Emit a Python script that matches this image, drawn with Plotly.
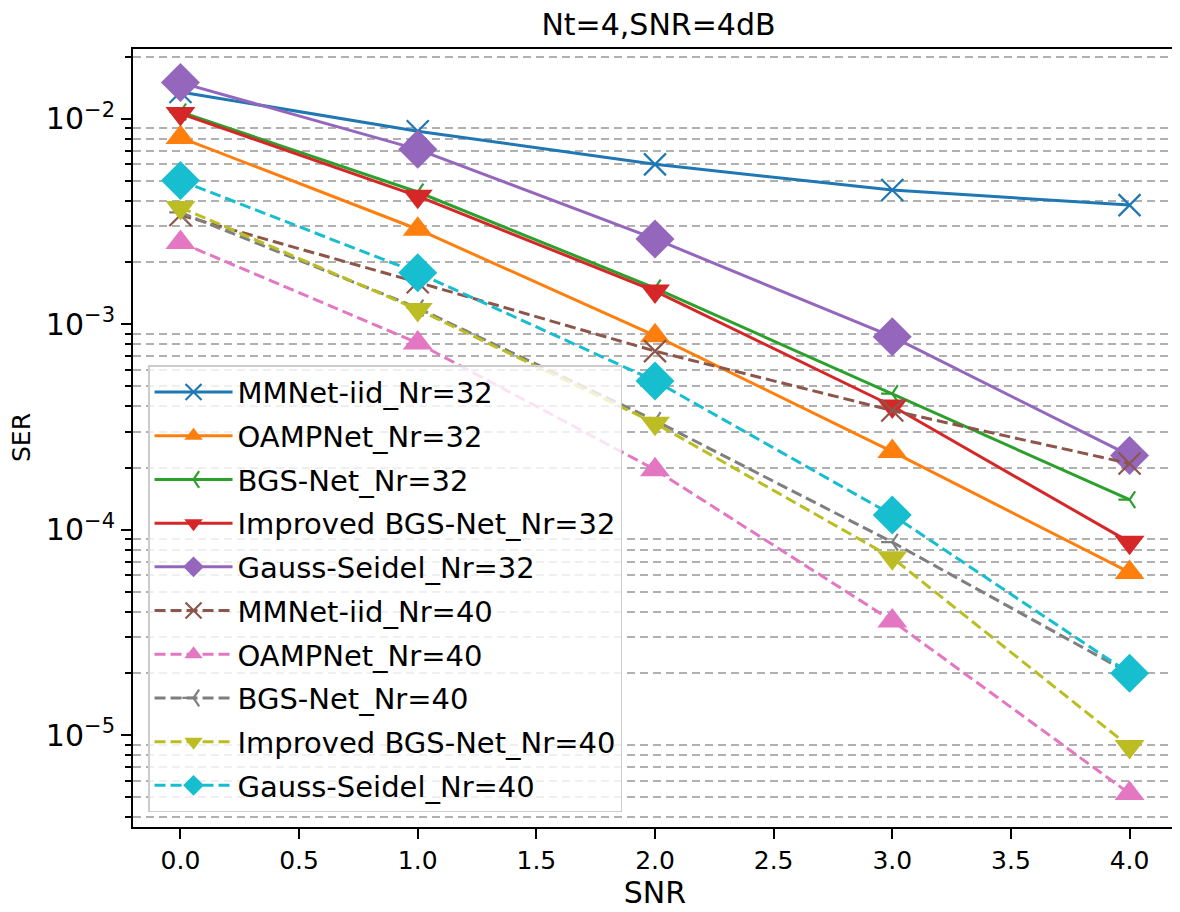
import plotly.graph_objects as go

# SNR points (x axis)
snr = [0, 1, 2, 3, 4]

# SER curves
mmnet_32 = [0.0135, 0.0087, 0.0060, 0.0045, 0.0038]
oamp_32 = [0.0081, 0.0029, 0.00088, 0.00024, 0.000062]
bgs_32 = [0.0108, 0.0044, 0.0015, 0.00046, 0.00014]
ibgs_32 = [0.0106, 0.0042, 0.00145, 0.00040, 0.000087]
gs_32 = [0.0150, 0.0071, 0.0026, 0.00087, 0.00023]
mmnet_40 = [0.0034, 0.0016, 0.00074, 0.00038, 0.00021]
oamp_40 = [0.0025, 0.00081, 0.000196, 0.000036, 0.0000052]
bgs_40 = [0.0035, 0.0012, 0.00034, 0.000087, 0.000020]
ibgs_40 = [0.0037, 0.00118, 0.00033, 0.000073, 0.0000088]
gs_40 = [0.0050, 0.00178, 0.00053, 0.000118, 0.000020]

series = [
    ("MMNet-iid_Nr=32", mmnet_32, "#1f77b4", "x-thin", "solid"),
    ("OAMPNet_Nr=32", oamp_32, "#ff7f0e", "triangle-up", "solid"),
    ("BGS-Net_Nr=32", bgs_32, "#2ca02c", "y-left", "solid"),
    ("Improved BGS-Net_Nr=32", ibgs_32, "#d62728", "triangle-down", "solid"),
    ("Gauss-Seidel_Nr=32", gs_32, "#9467bd", "diamond", "solid"),
    ("MMNet-iid_Nr=40", mmnet_40, "#8c564b", "x-thin", "11px,5px"),
    ("OAMPNet_Nr=40", oamp_40, "#e377c2", "triangle-up", "11px,5px"),
    ("BGS-Net_Nr=40", bgs_40, "#7f7f7f", "y-left", "11px,5px"),
    ("Improved BGS-Net_Nr=40", ibgs_40, "#bcbd22", "triangle-down", "11px,5px"),
    ("Gauss-Seidel_Nr=40", gs_40, "#17becf", "diamond", "11px,5px"),
]

marker_size = {"x-thin": 22, "triangle-up": 26, "triangle-down": 26,
               "y-left": 14, "diamond": 30}

fig = go.Figure()
for i, (name, vals, color, sym, dash) in enumerate(series):
    thin = sym in ("x-thin", "y-left")
    fig.add_trace(go.Scatter(
        x=snr, y=vals, name=name, mode="lines+markers",
        legendgroup=str(i),
        line=dict(color=color, width=3, dash=dash),
        marker=dict(symbol=sym, size=marker_size[sym], color=color,
                    line=dict(color=color, width=2.2 if thin else 0)),
    ))

# minor ticks / grid for the log axis
minor_vals = [m * 10.0 ** e for e in range(-6, -1) for m in range(2, 10)]

# page has an 8px body margin, so the figure is a bit smaller than the window
fig.update_layout(
    width=1172, height=904,
    margin=dict(l=125, r=3, t=41, b=85),
    paper_bgcolor="white", plot_bgcolor="white",
    font=dict(family="DejaVu Sans", size=25, color="black"),
    title=dict(text="Nt=4,SNR=4dB", x=0.555, xanchor="center",
               y=1 - 6 / 904, yanchor="top", yref="container",
               font=dict(size=30)),
    showlegend=True,
    legend=dict(x=0.0144, y=0.5936, xanchor="left", yanchor="top",
                bgcolor="rgba(255,255,255,0.8)", bordercolor="#cccccc",
                borderwidth=1.5, tracegroupgap=3, itemwidth=78,
                font=dict(size=29)),
    # y axis title placed by hand so it sits close to the page edge
    annotations=[dict(text="SER", textangle=-90, xref="paper", yref="paper",
                      x=0, y=0.5, xshift=-112, xanchor="center",
                      yanchor="middle", showarrow=False,
                      font=dict(size=25))],
)

fig.update_xaxes(
    range=[-0.2, 4.2], tickvals=[0, 0.5, 1, 1.5, 2, 2.5, 3, 3.5, 4],
    ticktext=["0.0", "0.5", "1.0", "1.5", "2.0", "2.5", "3.0", "3.5", "4.0"],
    ticks="outside", ticklen=10, tickwidth=1.5, tickcolor="black",
    showline=True, linecolor="black", linewidth=2, mirror=True,
    showgrid=False, zeroline=False, automargin=False,
    title=dict(text="SNR", standoff=4),
)

fig.update_yaxes(
    type="log", range=[-5.4467, -1.6605],
    tickvals=[1e-5, 1e-4, 1e-3, 1e-2],
    ticktext=["10<sup>\u22125</sup>", "10<sup>\u22124</sup>",
              "10<sup>\u22123</sup>", "10<sup>\u22122</sup>"],
    tickfont=dict(size=30),
    ticks="outside", ticklen=10, tickwidth=1.5, tickcolor="black",
    showline=True, linecolor="black", linewidth=2, mirror=True,
    showgrid=False, zeroline=False, automargin=False,
    minor=dict(tickmode="array", tickvals=minor_vals, ticks="outside",
               ticklen=6, tickwidth=1.5, tickcolor="black",
               showgrid=True, gridcolor="#b0b0b0", gridwidth=1.5,
               griddash="8px,5px"),
)

fig.write_html("out.html")
